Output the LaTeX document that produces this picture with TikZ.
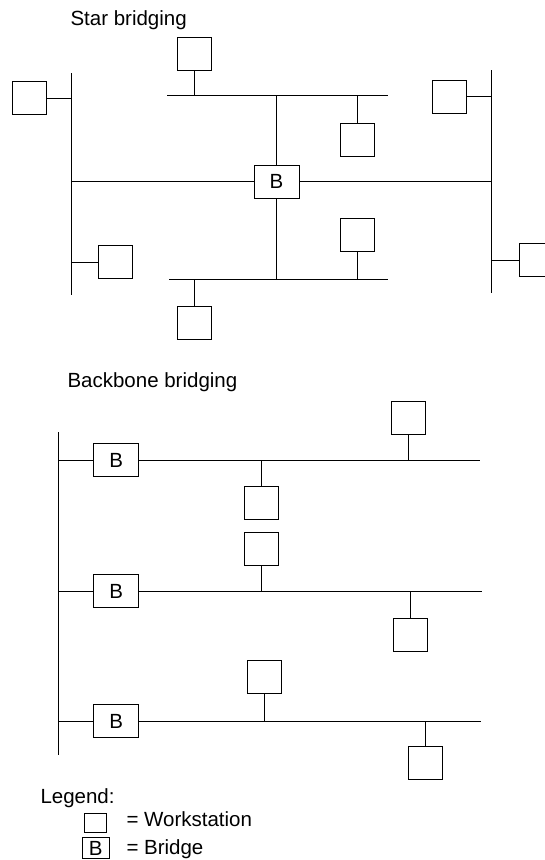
\documentclass[tikz,border=0pt]{standalone}
\usepackage{fontspec}
\setmainfont{Liberation Sans}
\newcommand{\diagfont}{\fontsize{20.5}{24}\selectfont}
\tikzset{
  ws/.style={draw, line width=1pt, minimum width=34pt, minimum height=33pt, inner sep=0pt},
  bridge/.style={draw, line width=1pt, minimum width=45pt, minimum height=33pt, inner sep=0pt},
  bus/.style={line width=1pt},
  title/.style={anchor=base west, inner sep=0pt}
}
\begin{document}
\begin{tikzpicture}[x=1pt, y=-1pt, font=\diagfont, line width=1pt]
\useasboundingbox (0,0) rectangle (545,860);
% ---- star bridging ------------------------------------------------
\node[title] (startitle) at (70,25) {Star bridging};
\node[bridge] (sb) at (276.5,181.5) {B};
% bus ends
\coordinate (lbusT) at (71,73);    \coordinate (lbusB) at (71,295);
\coordinate (rbusT) at (491,70);   \coordinate (rbusB) at (491,293);
\coordinate (tbusL) at (167,95);   \coordinate (tbusR) at (388,95);
\coordinate (bbusL) at (169,279.5);\coordinate (bbusR) at (388,279.5);
\draw[bus] (lbusT) -- (lbusB);
\draw[bus] (rbusT) -- (rbusB);
\draw[bus] (tbusL) -- (tbusR);
\draw[bus] (bbusL) -- (bbusR);
\draw[bus] (sb.west) -- (sb.west -| lbusT);
\draw[bus] (sb.east) -- (sb.east -| rbusT);
\draw[bus] (sb.north) -- (sb.north |- tbusL);
\draw[bus] (sb.south) -- (sb.south |- bbusL);
% workstations
\node[ws] (wsA) at (29,98) {};
\node[ws] (wsB) at (194,53.5) {};
\node[ws] (wsC) at (357,140) {};
\node[ws] (wsD) at (449.5,96.5) {};
\node[ws] (wsE) at (536,260) {};
\node[ws] (wsF) at (357,235) {};
\node[ws] (wsG) at (115,262) {};
\node[ws] (wsH) at (194,322.5) {};
\draw[bus] (wsA) -- (wsA -| lbusT);
\draw[bus] (wsB) -- (wsB |- tbusL);
\draw[bus] (wsC) -- (wsC |- tbusL);
\draw[bus] (wsD) -- (wsD -| rbusT);
\draw[bus] (wsE) -- (wsE -| rbusT);
\draw[bus] (wsF) -- (wsF |- bbusL);
\draw[bus] (wsG) -- (wsG -| lbusT);
\draw[bus] (wsH) -- (wsH |- bbusL);
% ---- backbone bridging --------------------------------------------
\node[title] (bbtitle) at (67,387) {Backbone bridging};
\coordinate (bkT) at (58,432);     \coordinate (bkB) at (58,755);
\draw[bus] (bkT) -- (bkB);
\node[bridge] (bb1) at (116.3,460) {B};
\node[bridge] (bb2) at (116.3,591) {B};
\node[bridge] (bb3) at (116.3,721) {B};
\coordinate (end1) at (480,460);
\coordinate (end2) at (482,591);
\coordinate (end3) at (481,721);
\draw[bus] (bb1.west) -- (bb1.west -| bkT);
\draw[bus] (bb2.west) -- (bb2.west -| bkT);
\draw[bus] (bb3.west) -- (bb3.west -| bkT);
\draw[bus] (bb1.east) -- (end1);
\draw[bus] (bb2.east) -- (end2);
\draw[bus] (bb3.east) -- (end3);
% workstations on the segments
\node[ws] (ws1a) at (408,417.5) {};
\node[ws] (ws1b) at (261,502.5) {};
\node[ws] (ws2a) at (261,549) {};
\node[ws] (ws2b) at (410.5,635) {};
\node[ws] (ws3a) at (264,677) {};
\node[ws] (ws3b) at (425,763) {};
\draw[bus] (ws1a) -- (ws1a |- end1);
\draw[bus] (ws1b) -- (ws1b |- end1);
\draw[bus] (ws2a) -- (ws2a |- end2);
\draw[bus] (ws2b) -- (ws2b |- end2);
\draw[bus] (ws3a) -- (ws3a |- end3);
\draw[bus] (ws3b) -- (ws3b |- end3);
% ---- legend -------------------------------------------------------
\node[title] (legtitle) at (40,803) {Legend:};
\node[ws, minimum width=22pt, minimum height=19pt] (legws) at (95.5,823) {};
\node[bridge, minimum width=27pt, minimum height=21pt] (legbr) at (95.8,848.3) {B};
\node[title] (legwstext) at (126,826) {= Workstation};
\node[title] (legbrtext) at (126,854) {= Bridge};
\end{tikzpicture}
\end{document}
